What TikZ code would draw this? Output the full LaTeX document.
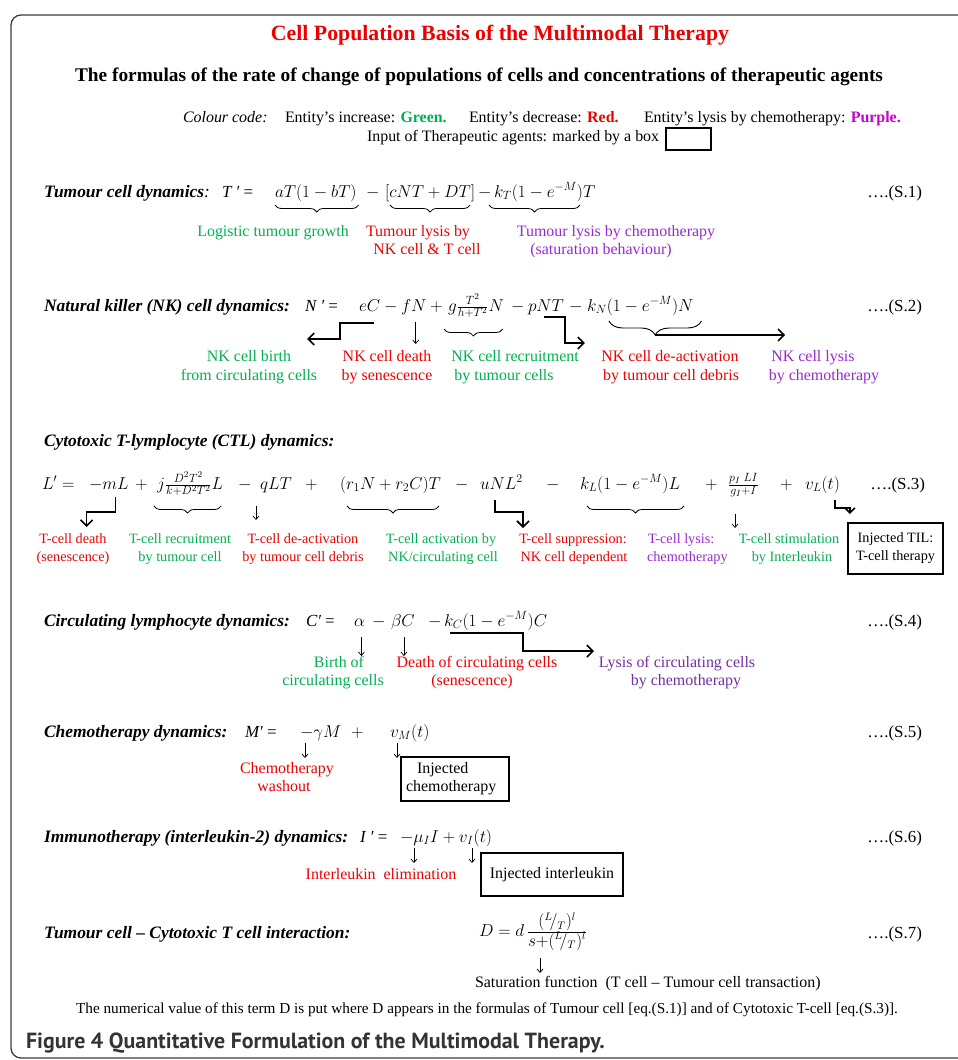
\documentclass[tikz,border=0pt]{standalone}
\usepackage{fontspec}
\setmainfont{Liberation Serif}
\newfontfamily\capfont{PT Sans}
\usetikzlibrary{arrows.meta,decorations.pathreplacing,calc}
\definecolor{cgreen}{RGB}{0,176,80}
\definecolor{cred}{RGB}{236,0,0}
\definecolor{cpurple}{RGB}{153,40,210}
\definecolor{cmag}{RGB}{204,0,204}
\definecolor{cpurp2}{RGB}{112,48,160}
\definecolor{framec}{RGB}{60,60,60}
\definecolor{capgray}{RGB}{51,51,51}
\newcommand\myLT{\mbox{\fontsize{16}{18}\selectfont$({}^{L}\!/_{T})^{l}$}}
\tikzset{
 bs/.style={inner sep=0pt, outer sep=0pt},
 eq/.style={bs, anchor=base west, font=\fontsize{18.5}{22}\selectfont},
 eqt/.style={bs, anchor=base west, font=\fontsize{17}{20}\selectfont\itshape},
 head/.style={bs, anchor=base west, font=\fontsize{17.5}{20}\selectfont\bfseries\itshape},
 num/.style={bs, anchor=base east, font=\fontsize{17}{20}\selectfont},
 lab/.style={bs, anchor=base, font=\fontsize{16}{19}\selectfont},
 slab/.style={bs, anchor=base, font=\fontsize{14.3}{17}\selectfont},
 txt/.style={bs, anchor=base west, font=\fontsize{16}{19}\selectfont},
 thk/.style={line width=1.7bp, line join=miter, -{Straight Barb[length=6bp,width=12bp,line width=1.6bp]}},
 thn/.style={line width=0.7bp, -{Straight Barb[length=3.5bp,width=6bp,line width=0.7bp]}},
 br/.style={decorate, decoration={brace,mirror,amplitude=7bp}, line width=0.8bp},
 inbox/.style={draw, line width=2.4bp, inner sep=0pt, align=center},
}
\begin{document}
\begin{tikzpicture}[x=1bp,y=-1bp]
\useasboundingbox (0,0) rectangle (958,1060);
\draw[framec, line width=1.3bp, rounded corners=10bp] (11,15) rectangle (990,1058);

% title block
\node[bs, anchor=base, text=cred, font=\fontsize{21.9}{24}\selectfont\bfseries] (title) at (500,40) {Cell Population Basis of the Multimodal Therapy};
\node[bs, anchor=base, font=\fontsize{19.4}{22}\selectfont\bfseries] (subtitle) at (479,81) {The formulas of the rate of change of populations of cells and concentrations of therapeutic agents};
\node[txt] (cc1) at (183,122) {\itshape Colour code:};
\node[txt] (cc2) at (285,122) {Entity’s increase: \textbf{\color{cgreen}Green.}};
\node[txt] (cc3) at (469,122) {Entity’s decrease: \textbf{\color{cred}Red.}};
\node[txt] (cc4) at (644,122) {Entity’s lysis by chemotherapy: \textbf{\color{cmag}Purple.}};
\node[txt] (cc5) at (367,141) {Input of Therapeutic agents: marked by a box};
\node[draw, line width=1.3bp, minimum width=45bp, minimum height=22bp, inner sep=0pt] (ccbox) at (688.5,139) {};

% S.1
\node[head] (h1) at (44,197) {Tumour cell dynamics\textmd{:}};
\node[eqt] (e1t) at (222,197) {T ′ \upshape=};
\node[eq] (e1a) at (275,197) {$aT(1-bT)$};
\node[eq] (e1m) at (366,197) {$-$};
\node[eq] (e1b) at (385,197) {$[cNT+DT]$};
\node[eq] (e1n) at (478,197) {$-$};
\node[eq] (e1c) at (494,197) {$k_T(1-e^{-M})$};
\node[eq, anchor=base west] (e1d) at (e1c.base east) {$T$};
\node[num] (n1) at (922,197) {….(S.1)};
\draw[br] ($(e1a.base west)+(0,8)$) -- ($(e1a.base east)+(2,8)$);
\draw[br] ($(e1b.base west)+(5,8)$) -- ($(e1b.base east)+(-5,8)$);
\draw[br] ($(e1c.base west)+(-5,8)$) -- ($(e1c.base east)+(-3,8)$);
\node[lab, text=cgreen] (l1a) at (273,236) {Logistic tumour growth};
\node[lab, text=cred] (l1b) at (418,236) {Tumour lysis by};
\node[lab, text=cred] (l1b2) at (427,254) {NK cell \& T cell};
\node[lab, text=cpurple] (l1c) at (616,236) {Tumour lysis by chemotherapy};
\node[lab, text=cpurple] (l1c2) at (601,254) {(saturation behaviour)};

% S.2
\node[head] (h2) at (44,311) {Natural killer (NK) cell dynamics:};
\node[eqt] (e2t) at (305,311) {N ′ \upshape=};
\node[eq] (e2e) at (359,311) {$eC$};
\node[eq] (e2m1) at (384,311) {$-$};
\node[eq] (e2f) at (401,311) {$fN$};
\node[eq] (e2p1) at (430,311) {$+$};
\node[eq] (e2g) at (448,311) {$g\frac{T^2}{h+T^2}N$};
\node[eq] (e2m2) at (511,311) {$-$};
\node[eq] (e2p) at (528,311) {$pNT$};
\node[eq] (e2m3) at (569,311) {$-$};
\node[eq] (e2k) at (587,311) {$k_N$};
\node[eq, anchor=base west] (e2l) at (e2k.base east) {$(1-e^{-M})N$};
\node[num] (n2) at (922,311) {….(S.2)};
\coordinate (eCs) at ($(e2e.base east)+(-6,12)$);
\draw[thk] (eCs) -- ++(-34,0) -- ++(0,16) -- ++(-33,0) coordinate (eCe);
\coordinate (fNs) at ($(e2f.base)+(2,11)$);
\draw[thn] (fNs) -- ++(0,22) coordinate (fNe);
\draw[br] ($(e2g.base west)+(-4,18)$) -- ($(e2g.base east)+(-1,18)$);
\coordinate (pNs) at ($(e2p.base east)+(-20,6)$);
\draw[thk] (pNs) -- ++(21,0) -- ++(0,26) -- ++(20,0) coordinate (pNe);
\draw[decorate, decoration={brace,mirror,amplitude=14bp}, line width=0.9bp] ($(e2l.base west)+(2,10)$) -- ($(e2l.base east)+(8,10)$);
\coordinate (kNs) at ($(e2l.base west)!0.5!(e2l.base east)+(5,24)$);
\draw[thk] (kNs) -- ++(130,0) coordinate (kNe);
\node[lab, text=cgreen] (l2a) at (249,361) {NK cell birth};
\node[lab, text=cgreen] (l2a2) at (249,380) {from circulating cells};
\node[lab, text=cred] (l2b) at (387,361) {NK cell death};
\node[lab, text=cred] (l2b2) at (387,380) {by senescence};
\node[lab, text=cgreen] (l2c) at (515,361) {NK cell recruitment};
\node[lab, text=cgreen] (l2c2) at (504,380) {by tumour cells};
\node[lab, text=cred] (l2d) at (670,361) {NK cell de-activation};
\node[lab, text=cred] (l2d2) at (671,380) {by tumour cell debris};
\node[lab, text=cpurple] (l2e) at (813,361) {NK cell lysis};
\node[lab, text=cpurple] (l2e2) at (824,380) {by chemotherapy};

% S.3
\node[head] (h3) at (44,446) {Cytotoxic T-lymplocyte (CTL) dynamics:};
\node[eq] (c0) at (42,489) {$L' =$};
\node[eq] (c1) at (89,489) {$-mL$};
\node[eq] (c2) at (135,489) {$+$};
\node[eq] (c3) at (157,489) {$j\frac{D^2T^2}{k+D^2T^2}L$};
\node[eq] (c4) at (238,489) {$-$};
\node[eq] (c5) at (260,489) {$qLT$};
\node[eq] (c6) at (305,489) {$+$};
\node[eq] (c7) at (340,489) {$(r_1N+r_2C)T$};
\node[eq] (c8) at (455,489) {$-$};
\node[eq] (c9) at (480,489) {$uNL^2$};
\node[eq] (c10) at (546,489) {$-$};
\node[eq] (c11) at (580,489) {$k_L(1-e^{-M})L$};
\node[eq] (c12) at (705,489) {$+$};
\node[eq] (c13) at (728,489) {$\frac{p_I\;LI}{g_I+I}$};
\node[eq] (c14) at (780,489) {$+$};
\node[eq] (c15) at (805,489) {$v_L(t)$};
\node[num] (n3) at (925,489) {….(S.3)};
\coordinate (mLs) at ($(c1.base east)+(-13,8)$);
\draw[thk] (mLs) -- ++(0,15) -- ++(-29,0) -- ++(0,15) coordinate (mLe);
\draw[br] ($(c3.base west)+(-3,17)$) -- ($(c3.base east)+(-2,17)$);
\coordinate (qs) at ($(c5.base west)+(-4,17)$);
\draw[thn] (qs) -- ++(0,14) coordinate (qe);
\draw[br] ($(c7.base west)+(7,17)$) -- ($(c7.base east)+(-2,17)$);
\coordinate (us) at ($(c9.base west)+(15,11)$);
\draw[thk] (us) -- ++(0,12) -- ++(28,0) -- ++(0,16) coordinate (ue);
\draw[br] ($(c11.base west)+(7,17)$) -- ($(c11.base east)+(4,17)$);
\coordinate (pIs) at ($(c13.base west)+(7,25)$);
\draw[thn] (pIs) -- ++(0,14) coordinate (pIe);
\coordinate (vLs) at ($(c15.base east)+(-5,11)$);
\draw[thk, -{Straight Barb[length=5bp,width=10bp,line width=1.6bp]}] (vLs) -- ++(0,8) -- ++(15,0) -- ++(0,6) coordinate (vLe);
\node[inbox, minimum width=95bp, minimum height=51bp, font=\fontsize{14.3}{18}\selectfont] (til) at (895.5,548.5) {Injected TIL:\\T-cell therapy};
\node[slab, text=cred] (l3a) at (73,543) {T-cell death};
\node[slab, text=cred] (l3a2) at (73,561) {(senescence)};
\node[slab, text=cgreen] (l3b) at (180,543) {T-cell recruitment};
\node[slab, text=cgreen] (l3b2) at (180,561) {by tumour cell};
\node[slab, text=cred] (l3c) at (303,543) {T-cell de-activation};
\node[slab, text=cred] (l3c2) at (303,561) {by tumour cell debris};
\node[slab, text=cgreen] (l3d) at (441,543) {T-cell activation by};
\node[slab, text=cgreen] (l3d2) at (443,561) {NK/circulating cell};
\node[slab, text=cred] (l3e) at (573,543) {T-cell suppression:};
\node[slab, text=cred] (l3e2) at (574,561) {NK cell dependent};
\node[slab, anchor=base west, text=cpurple] (l3f) at (648,543) {T-cell lysis:};
\node[slab, anchor=base west, text=cpurple] (l3f2) at (647,561) {chemotherapy};
\node[slab, text=cgreen] (l3g) at (789,543) {T-cell stimulation};
\node[slab, text=cgreen] (l3g2) at (792,561) {by Interleukin};

% S.4
\node[head] (h4) at (44,626) {Circulating lymphocyte dynamics:};
\node[eqt] (e4t) at (306,626) {C′ \upshape=};
\node[eq] (e4a) at (354,626) {$\alpha$};
\node[eq] (e4m1) at (372,626) {$-$};
\node[eq] (e4b) at (391,626) {$\beta C$};
\node[eq] (e4m2) at (428,626) {$-$};
\node[eq] (e4k) at (444,626) {$k_C$};
\node[eq, anchor=base west] (e4l) at (e4k.base east) {$(1-e^{-M})C$};
\node[num] (n4) at (922,626) {….(S.4)};
\coordinate (as) at ($(e4a.base)+(2,11)$);
\draw[thn] (as) -- ++(0,19) coordinate (ae);
\coordinate (bs) at ($(e4b.base)+(1,11)$);
\draw[thn] (bs) -- ++(0,19) coordinate (be);
\coordinate (kCs) at ($(e4k.base west)+(6,7)$);
\draw[thk] (kCs) -- ++(73,0) -- ++(0,18) -- ++(71,0) coordinate (kCe);
\node[lab, text=cgreen] (l4a) at (339,667) {Birth of};
\node[lab, text=cgreen] (l4a2) at (333,685) {circulating cells};
\node[lab, text=cred] (l4b) at (477,667) {Death of circulating cells};
\node[lab, text=cred] (l4b2) at (472,685) {(senescence)};
\node[lab, text=cpurp2] (l4c) at (677,667) {Lysis of circulating cells};
\node[lab, text=cpurp2] (l4c2) at (686,685) {by chemotherapy};

% S.5
\node[head] (h5) at (44,737) {Chemotherapy dynamics:};
\node[eqt] (e5t) at (245,737) {M′ \upshape=};
\node[eq] (e5a) at (300,737) {$-\gamma M$};
\node[eq] (e5p) at (351,737) {$+$};
\node[eq] (e5b) at (390,737) {$v_M(t)$};
\node[num] (n5) at (922,737) {….(S.5)};
\coordinate (gs) at ($(e5a.base west)+(5,6)$);
\draw[thn] (gs) -- ++(0,15) coordinate (ge);
\coordinate (vMs) at ($(e5b.base west)+(7,6)$);
\draw[thn] (vMs) -- ++(0,15) coordinate (vMe);
\node[lab, text=cred] (l5a) at (287,773) {Chemotherapy};
\node[lab, text=cred] (l5a2) at (284,791) {washout};
\node[inbox, minimum width=108bp, minimum height=44bp] (chbox) at (455,779) {};
\node[txt] (chb1) at (417,773) {Injected};
\node[txt] (chb2) at (406,791) {chemotherapy};

% S.6
\node[head] (h6) at (44,842) {Immunotherapy (interleukin-2) dynamics:};
\node[eqt] (e6t) at (360,842) {I ′ \upshape=};
\node[eq] (e6a) at (400,842) {$-\mu_I I + v_I(t)$};
\node[num] (n6) at (922,842) {….(S.6)};
\coordinate (mus) at (414,848);
\draw[thn] (mus) -- ++(0,15) coordinate (mue);
\coordinate (vIs) at (472,848);
\draw[thn] (vIs) -- ++(0,15) coordinate (vIe);
\node[lab, text=cred] (l6a) at (381,879) {Interleukin\ \ elimination};
\node[inbox, minimum width=142bp, minimum height=43bp, font=\fontsize{16}{19}\selectfont] (ilbox) at (552,874.5) {Injected interleukin};

% S.7
\node[head] (h7) at (44,938) {Tumour cell -- Cytotoxic T cell interaction:};
\node[eq, font=\fontsize{18}{20}\selectfont] (e7) at (479,936) {$D = d\,\frac{\myLT}{\mbox{\fontsize{16}{18}\selectfont$s+$}\myLT}$};
\node[num] (n7) at (922,938) {….(S.7)};
\coordinate (ds) at (540,958);
\draw[thn] (ds) -- ++(0,15) coordinate (de);
\node[txt] (sat) at (475,987) {Saturation function\ \ (T cell -- Tumour cell transaction)};
\node[bs, anchor=base, font=\fontsize{15.3}{18}\selectfont] (note) at (487,1013) {The numerical value of this term D is put where D appears in the formulas of Tumour cell [eq.(S.1)] and of Cytotoxic T-cell [eq.(S.3)].};
\node[bs, anchor=base west, text=capgray, font=\fontsize{22}{24}\selectfont\capfont\bfseries] (cap) at (26,1048) {Figure 4 Quantitative Formulation of the Multimodal Therapy.};
\end{tikzpicture}
\end{document}
